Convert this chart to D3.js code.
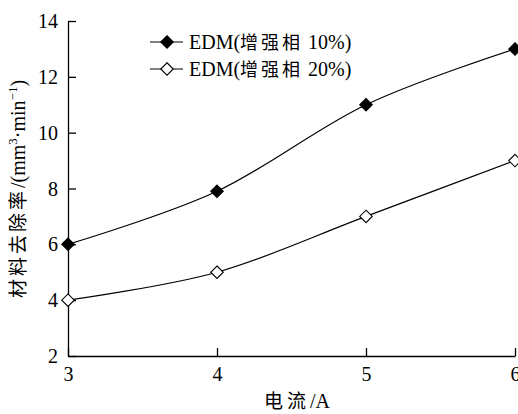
<!DOCTYPE html>
<html>
<head>
<meta charset="utf-8">
<script src="https://cdn.jsdelivr.net/npm/d3@7"></script>
<style>
  body { margin: 0; background: #fff; }
  text { font-family: "Liberation Serif", "Noto Sans CJK SC", serif; fill: #000; }
  .cjk { font-family: "Noto Sans CJK SC", sans-serif; letter-spacing: 2px; }
</style>
</head>
<body>
<svg id="chart" width="518" height="414"></svg>
<script>
// data
const currents = [3, 4, 5, 6];
const rate10 = [6, 7.9, 11, 13];
const rate20 = [4, 5, 7, 9];
const seriesNames = [['EDM(', '增强相', ' 10%)'], ['EDM(', '增强相', ' 20%)']];
const xTicks = [3, 4, 5, 6];
const yTicks = [2, 4, 6, 8, 10, 12, 14];

const margin = { top: 21, right: 3, bottom: 58, left: 68 };
const width = 518, height = 414;

const svg = d3.select('#chart');

const x = d3.scaleLinear().domain([3, 6]).range([margin.left, width - margin.right]);
const y = d3.scaleLinear().domain([2, 14]).range([height - margin.bottom, margin.top]);

// axes
const xAxis = svg.append('g')
  .attr('transform', `translate(0,${y(2)})`)
  .call(d3.axisTop(x).tickValues(xTicks).tickSize(8).tickSizeOuter(0).tickFormat(d3.format('d')));
xAxis.selectAll('text')
  .attr('y', 25)
  .attr('dy', 0)
  .style('font-size', '20px');

const yAxis = svg.append('g')
  .attr('transform', `translate(${x(3)},0)`)
  .call(d3.axisRight(y).tickValues(yTicks).tickSize(8).tickSizeOuter(0).tickFormat(d3.format('d')));
yAxis.selectAll('text')
  .attr('x', -10)
  .attr('text-anchor', 'end')
  .attr('dy', '0.33em')
  .style('font-size', '20px');

svg.selectAll('.domain, .tick line').attr('stroke', '#000').attr('stroke-width', 1.3);

// axis titles
const xTitle = svg.append('text')
  .attr('x', 297).attr('y', 408)
  .attr('text-anchor', 'middle')
  .style('font-size', '19px');
xTitle.append('tspan').attr('class', 'cjk').style('letter-spacing', '4px').text('电流');
xTitle.append('tspan').style('font-size', '20px').text('/A');

const yTitle = svg.append('text')
  .attr('transform', 'translate(25,189) rotate(-90)')
  .attr('text-anchor', 'middle')
  .style('font-size', '19px');
yTitle.append('tspan').attr('class', 'cjk').style('letter-spacing', '3px').text('材料去除率');
yTitle.append('tspan').style('font-size', '20px').text('/(mm');
yTitle.append('tspan').attr('dy', -8).style('font-size', '13px').text('3');
yTitle.append('tspan').attr('dy', 8).style('font-size', '20px').text('·min');
yTitle.append('tspan').attr('dy', -8).style('font-size', '13px').text('−1');
yTitle.append('tspan').attr('dy', 8).style('font-size', '20px').text(')');

// lines
const line = d3.line()
  .x((d, i) => x(currents[i]))
  .y(d => y(d))
  .curve(d3.curveCatmullRom.alpha(0));

const diamond = d3.symbol().type(d3.symbolDiamond2).size(100);

const series = [
  { values: rate10, fill: '#000' },
  { values: rate20, fill: '#fff' }
];

series.forEach(s => {
  svg.append('path')
    .attr('d', line(s.values))
    .attr('fill', 'none')
    .attr('stroke', '#000')
    .attr('stroke-width', 1.2);
  svg.selectAll(null)
    .data(s.values)
    .enter()
    .append('path')
    .attr('d', diamond)
    .attr('transform', (d, i) => `translate(${x(currents[i])},${y(d)})`)
    .attr('fill', s.fill)
    .attr('stroke', '#000')
    .attr('stroke-width', 1.1);
});

// legend
const legend = svg.append('g').attr('transform', 'translate(150,42)');
series.forEach((s, i) => {
  const row = legend.append('g').attr('transform', `translate(0,${i * 27})`);
  row.append('line').attr('x1', 0).attr('x2', 33).attr('stroke', '#000').attr('stroke-width', 1.2);
  row.append('path').attr('d', diamond).attr('transform', 'translate(17,0)')
    .attr('fill', s.fill).attr('stroke', '#000').attr('stroke-width', 1.1);
  const t = row.append('text').attr('x', 39).attr('dy', '0.35em').style('font-size', '20px');
  t.append('tspan').text(seriesNames[i][0]);
  t.append('tspan').attr('class', 'cjk').style('font-size', '18px').style('letter-spacing', '3px').text(seriesNames[i][1]);
  t.append('tspan').text(seriesNames[i][2]);
});
</script>
</body>
</html>
